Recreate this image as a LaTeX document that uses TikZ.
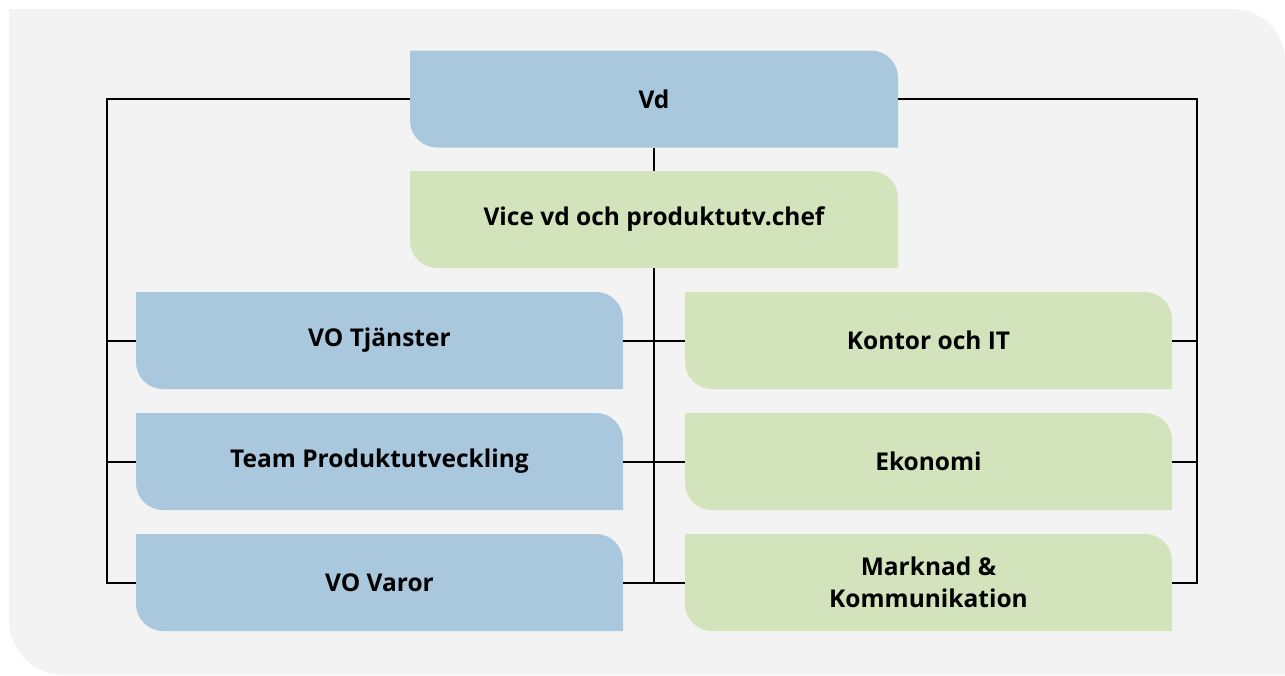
\documentclass[tikz,border=0pt]{standalone}
\usepackage{fontspec}
\setmainfont{Open Sans}
\definecolor{bgc}{HTML}{F2F3F2}
\definecolor{bluec}{HTML}{A9C8DE}
\definecolor{greenc}{HTML}{D3E4BC}
\tikzset{
  orgbox/.style={minimum width=488pt, minimum height=97pt, inner sep=0pt, align=center,
    font=\fontsize{24.5}{32}\selectfont\bfseries,
    path picture={\fill[#1] (path picture bounding box.north west)
      -- ([xshift=-27pt]path picture bounding box.north east)
      arc[start angle=90,end angle=0,radius=27pt]
      -- (path picture bounding box.south east)
      -- ([xshift=27pt]path picture bounding box.south west)
      arc[start angle=270,end angle=180,radius=27pt] -- cycle;}},
  conn/.style={line width=2pt, black}
}
\begin{document}
\begin{tikzpicture}[x=1pt,y=1pt]
\useasboundingbox (0,0) rectangle (1285,-675);
\fill[bgc] (9,-9) -- (1233,-9) arc[start angle=90,end angle=0,radius=52] -- (1285,-675)
  -- (64,-675) arc[start angle=270,end angle=180,radius=55] -- cycle;
% nodes
\node[orgbox=bluec] (vd) at (654,-99) {Vd};
\node[orgbox=greenc] (vice) at (654,-219.5) {Vice vd och produktutv.chef};
\node[orgbox=bluec, minimum width=487pt] (vo1) at (379.5,-340.5) {VO Tjänster};
\node[orgbox=bluec, minimum width=487pt] (vo2) at (379.5,-461.5) {Team Produktutveckling};
\node[orgbox=bluec, minimum width=487pt] (vo3) at (379.5,-582.5) {VO Varor};
\node[orgbox=greenc, minimum width=487pt] (ko) at (928.5,-340.5) {Kontor och IT};
\node[orgbox=greenc, minimum width=487pt] (ek) at (928.5,-461.5) {Ekonomi};
\node[orgbox=greenc, minimum width=487pt] (ma) at (928.5,-582.5) {Marknad \&\\Kommunikation};
% helper coordinates
\coordinate (TL) at (107,-99);
\coordinate (TR) at (1197,-99);
\coordinate (CB) at (654,-582.5);
% connectors
\draw[conn] (vd.west) -- (TL) -- (TL |- vo3.west) -- (vo3.west);
\draw[conn] (vd.east) -- (TR) -- (TR |- ma.east) -- (ma.east);
\draw[conn] (vo1.west) -- (vo1.west -| TL);
\draw[conn] (vo2.west) -- (vo2.west -| TL);
\draw[conn] (ko.east) -- (ko.east -| TR);
\draw[conn] (ek.east) -- (ek.east -| TR);
\draw[conn] (vd.south) -- (vice.north);
\draw[conn] (vice.south) -- (CB);
\draw[conn] (vo1.east) -- (ko.west);
\draw[conn] (vo2.east) -- (ek.west);
\draw[conn] (vo3.east) -- (ma.west);
\end{tikzpicture}
\end{document}
